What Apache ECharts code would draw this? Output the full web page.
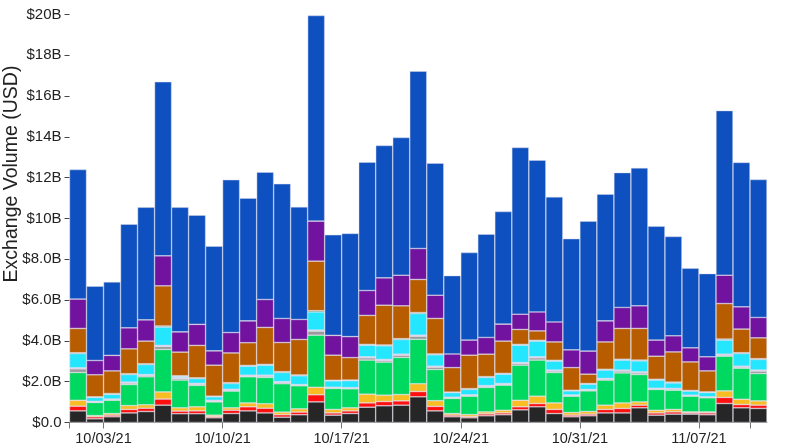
<!DOCTYPE html>
<html><head><meta charset="utf-8">
<script src="https://cdn.jsdelivr.net/npm/echarts@6/dist/echarts.min.js"></script>
<style>html,body{margin:0;padding:0;background:#fff}#c{width:800px;height:445px}</style>
</head><body><div id="c"></div>
<script>
// Daily categories
const dates = ['10/01/21','10/02/21','10/03/21','10/04/21','10/05/21','10/06/21','10/07/21','10/08/21','10/09/21','10/10/21',
  '10/11/21','10/12/21','10/13/21','10/14/21','10/15/21','10/16/21','10/17/21','10/18/21','10/19/21','10/20/21',
  '10/21/21','10/22/21','10/23/21','10/24/21','10/25/21','10/26/21','10/27/21','10/28/21','10/29/21','10/30/21',
  '10/31/21','11/01/21','11/02/21','11/03/21','11/04/21','11/05/21','11/06/21','11/07/21','11/08/21','11/09/21','11/10/21'];
// x tick positions (category index) and labelled ticks
const tickPositions = [0, 2, 9, 16, 23, 30, 37, 40];
const labelPositions = [2, 9, 16, 23, 30, 37];
const yTitle = 'Exchange Volume (USD)';

// Values in billions USD, bottom layer first
const sBlack  = [.57,.18,.28,.47,.54,.85,.43,.43,.23,.44,.57,.47,.26,.38,1.01,.36,.44,.75,.82,.85,1.26,.57,.28,.23,.33,.38,.62,.77,.44,.28,.33,.47,.47,.72,.36,.41,.41,.38,.93,.72,.69];
const sRed    = [.23,.10,.08,.17,.16,.30,.13,.14,.06,.16,.20,.23,.12,.13,.35,.11,.13,.21,.21,.21,.26,.22,.08,.06,.09,.09,.15,.16,.20,.08,.08,.17,.22,.13,.11,.11,.06,.09,.30,.16,.16];
const sYellow = [.29,.06,.08,.19,.17,.35,.16,.20,.07,.12,.19,.22,.13,.16,.37,.17,.15,.43,.31,.31,.38,.28,.08,.10,.10,.13,.32,.36,.32,.13,.13,.21,.27,.16,.13,.12,.05,.05,.32,.26,.21];
const sGreen  = [1.36,.64,.65,1.03,1.37,2.08,1.36,1.05,.65,.82,1.28,1.29,1.39,1.13,2.55,1.03,.93,1.67,1.62,1.82,2.18,1.53,.74,.90,1.20,1.23,1.72,1.77,1.49,.80,1.01,1.23,1.47,1.34,1.02,.94,.77,.69,1.70,1.52,1.34];
const sGray   = [.18,.03,.03,.07,.06,.15,.07,.05,.03,.04,.03,.06,.05,.03,.20,.03,.03,.11,.08,.11,.15,.11,.03,.03,.04,.03,.08,.11,.07,.03,.04,.04,.09,.08,.03,.05,.03,.03,.05,.05,.12];
const sPink   = [.05,.03,.03,.05,.05,.05,.05,.05,.05,.05,.05,.05,.05,.03,.05,.03,.03,.05,.05,.05,.05,.05,.03,.04,.05,.05,.05,.05,.05,.03,.03,.04,.05,.05,.03,.04,.02,.02,.05,.05,.05];
const sCyan   = [.70,.19,.23,.37,.49,.90,.06,.23,.17,.28,.44,.49,.45,.43,.89,.31,.34,.57,.67,.72,1.06,.56,.22,.26,.40,.46,.85,.77,.44,.20,.26,.41,.49,.54,.40,.27,.20,.21,.69,.62,.52];
const sDkGreen= [.04,.03,.04,.04,.04,.05,.03,.04,.03,.04,.04,.04,.04,.04,.06,.03,.03,.04,.04,.04,.05,.04,.03,.04,.04,.04,.04,.04,.04,.03,.03,.04,.04,.04,.04,.04,.03,.03,.05,.04,.04];
const sBrown  = [1.19,1.08,1.11,1.22,1.11,1.97,1.16,1.59,1.52,1.46,1.11,1.81,1.43,1.74,2.43,1.23,1.10,1.42,1.95,1.61,1.62,1.74,1.20,1.64,1.10,1.58,.73,.46,.90,1.11,.46,1.34,1.51,1.55,1.13,1.48,1.40,1.03,1.74,1.16,1.02];
const sPurple = [1.44,.70,.76,1.03,1.04,1.47,.99,1.03,.70,1.00,1.07,1.37,1.18,.98,1.96,.97,1.03,1.22,1.34,1.50,1.52,1.14,.67,.74,.82,.83,.75,.93,.98,.87,1.13,1.03,1.03,1.11,.79,.79,.69,.69,1.39,1.09,1.00];
const sBlue   = [6.35,3.64,3.60,5.08,5.52,8.53,6.11,5.35,5.13,7.49,6.02,6.24,6.60,5.52,10.08,4.93,5.06,6.29,6.49,6.75,8.69,6.47,3.84,4.29,5.06,5.52,8.17,7.44,6.13,5.45,6.37,6.21,6.61,6.76,5.58,4.87,3.90,4.08,8.07,7.08,6.76];

const layers = [
  ['Layer 1', sBlack, '#262626'],
  ['Layer 2', sRed, '#ff1010'],
  ['Layer 3', sYellow, '#f9bd23'],
  ['Layer 4', sGreen, '#00d95f'],
  ['Layer 5', sGray, '#9a9a9a'],
  ['Layer 6', sPink, '#dca8f0'],
  ['Layer 7', sCyan, '#25e6ff'],
  ['Layer 8', sDkGreen, '#1b7a3e'],
  ['Layer 9', sBrown, '#b85c00'],
  ['Layer 10', sPurple, '#72139f'],
  ['Layer 11', sBlue, '#0e50c0']
];

const chart = echarts.init(document.getElementById('c'), null, {renderer: 'canvas'});
const font = 'Liberation Sans, Arial, Helvetica, sans-serif';
chart.setOption({
  animation: false,
  backgroundColor: '#ffffff',
  grid: {left: 69.5, right: 33, top: 14.5, bottom: 22.5, containLabel: false, outerBoundsMode: 'none'},
  graphic: [{
    type: 'text', x: 12, y: 174, rotation: Math.PI / 2, silent: true,
    style: {text: yTitle, fontSize: 19.5, fontFamily: font, fill: '#222', align: 'center', verticalAlign: 'middle'}
  }],
  xAxis: [
    {
      type: 'category', data: dates, position: 'bottom',
      axisLine: {show: false}, axisTick: {show: false}, axisLabel: {show: false}, splitLine: {show: false}
    },
    {
      type: 'value', min: 0, max: dates.length, position: 'bottom',
      axisLine: {show: true, lineStyle: {color: '#9a9a9a', width: 1}},
      axisTick: {show: true, length: 6, lineStyle: {color: '#777'}, customValues: tickPositions},
      axisLabel: {show: true, customValues: labelPositions, margin: 9, color: '#222', fontSize: 14.5, fontFamily: font,
        formatter: v => dates[Math.round(v)]},
      splitLine: {show: false}
    }
  ],
  yAxis: {
    type: 'value', min: 0, max: 20, interval: 2,
    axisLine: {show: false},
    axisTick: {show: true, length: 5, lineStyle: {color: '#444'}},
    axisLabel: {margin: 8, color: '#222', fontSize: 15, fontFamily: font,
      formatter: v => v === 0 ? '$0.0' : (v < 10 ? '$' + v.toFixed(1) + 'B' : '$' + v + 'B')},
    splitLine: {show: false}
  },
  series: layers.map(([name, data, color]) => ({
    name, type: 'bar', stack: 'total', data, xAxisIndex: 0,
    barCategoryGap: '0%', barGap: '0%',
    itemStyle: {color, borderColor: 'rgba(215,215,230,0.75)', borderWidth: 0.6},
    emphasis: {disabled: true}
  }))
});
</script></body></html>
